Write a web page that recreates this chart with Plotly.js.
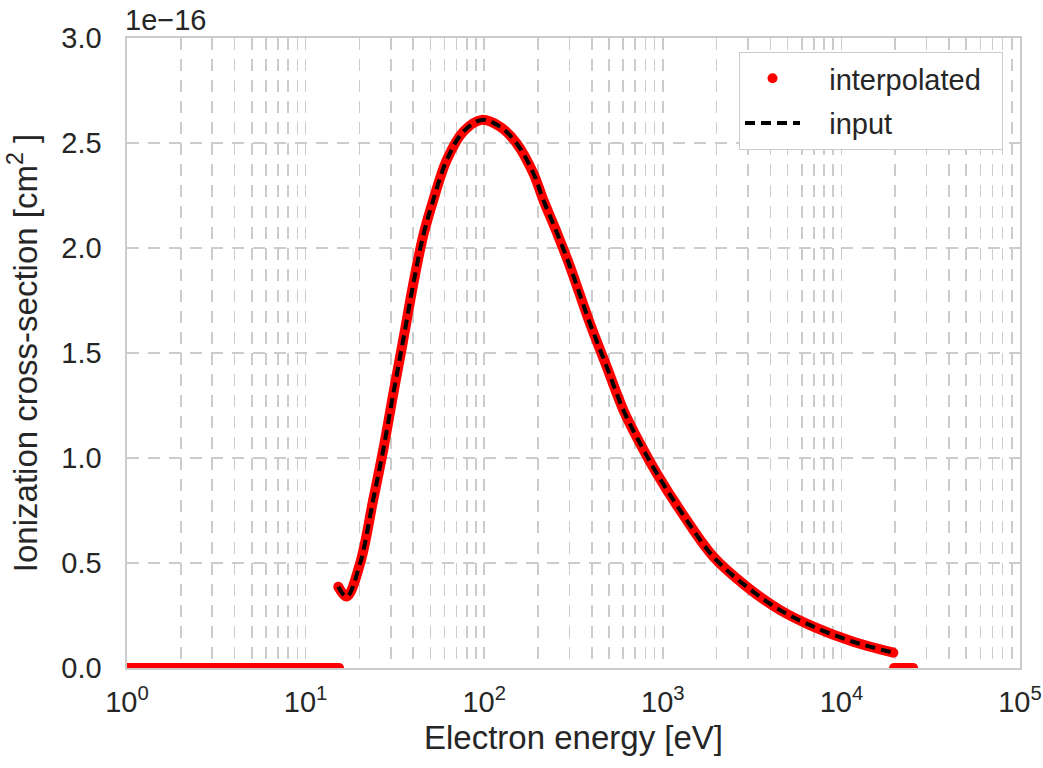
<!DOCTYPE html>
<html>
<head>
<meta charset="utf-8">
<script src="https://cdn.plot.ly/plotly-3.0.1.min.js"></script>
<style>html,body{margin:0;padding:0;background:#fff;}#chart{width:1043px;height:768px;}</style>
</head>
<body>
<div id="chart"></div>
<script>
// Electron energy [eV] of the tabulated (input) cross-section curve
const energyInput = [15.24, 17.0, 20.2, 23.9, 27.2, 31.0, 35.2, 40.1, 45.6, 51.9, 61.7, 76.4, 96.8,
  122.5, 152, 188.4, 214, 254.7, 302.6, 391, 485, 601, 745, 925, 1248, 1918, 2951, 4530, 6965, 11660, 19530];
// Ionization cross-section in units of 1e-16 cm^2
const sigmaInput = [0.387, 0.340, 0.499, 0.800, 1.038, 1.308, 1.562, 1.83, 2.06, 2.229, 2.419, 2.554, 2.610,
  2.578, 2.498, 2.356, 2.230, 2.075, 1.911, 1.641, 1.435, 1.229, 1.070, 0.927, 0.752, 0.530, 0.387, 0.276, 0.197, 0.125, 0.073];

// Interpolated series: zero below threshold, the curve, zero beyond the table end
const energyBelow = [1, 15.4];
const sigmaBelow = [0, 0];
const energyAbove = [19700, 25200];
const sigmaAbove = [0, 0];

const xTickVals = [1, 10, 100, 1000, 10000, 100000];
const xTickText = ['10<sup>0</sup>', '10<sup>1</sup>', '10<sup>2</sup>', '10<sup>3</sup>', '10<sup>4</sup>', '10<sup>5</sup>'];
const yScaleLabel = '1e\u221216';
const seriesNames = ['interpolated', 'input'];

const minorVals = [];
for (let d = 0; d < 5; d++) for (let m = 2; m <= 9; m++) minorVals.push(m * Math.pow(10, d));

const xInterp = energyBelow.concat([null], energyInput, [null], energyAbove);
const yInterp = sigmaBelow.concat([null], sigmaInput, [null], sigmaAbove);

const gridCol = '#cccccc';
const gridDash = '12px,9px';
const txt = '#262626';
const fam = '"Liberation Sans", Arial, sans-serif';
const pad = '\u00a0\u00a0\u00a0';
const last = energyInput.length - 1;

const traces = [
  {x: xInterp, y: yInterp, mode: 'lines', connectgaps: false,
   line: {color: '#ff0000', width: 10, shape: 'spline', smoothing: 1},
   showlegend: false, legendgroup: 'a', hoverinfo: 'skip'},
  {x: [energyBelow[0], energyBelow[1], null, energyInput[0], null, energyAbove[0], energyAbove[1], null, energyInput[last]],
   y: [sigmaBelow[0], sigmaBelow[1], null, sigmaInput[0], null, sigmaAbove[0], sigmaAbove[1], null, sigmaInput[last]],
   mode: 'markers', marker: {color: '#ff0000', size: 10}, showlegend: false, hoverinfo: 'skip'},
  {x: [null], y: [null], mode: 'markers', name: pad + seriesNames[0] + '\u00a0\u00a0',
   marker: {color: '#ff0000', size: 10}, legendgroup: 'a'},
  {x: energyInput, y: sigmaInput, mode: 'lines', name: pad + seriesNames[1],
   line: {color: '#000000', width: 4, dash: '10px,6px', shape: 'spline', smoothing: 1}, legendgroup: 'b'}
];

const layout = {
  width: 1043, height: 768,
  margin: {l: 127, r: 23, t: 38, b: 100},
  paper_bgcolor: '#ffffff', plot_bgcolor: '#ffffff',
  font: {family: fam, color: txt, size: 29},
  showlegend: true,
  legend: {x: 0.981, y: 0.978, xanchor: 'right', yanchor: 'top',
    bgcolor: '#ffffff', bordercolor: gridCol, borderwidth: 1,
    font: {family: fam, size: 29, color: txt}, itemwidth: 55,
    traceorder: 'grouped', tracegroupgap: 4},
  xaxis: {type: 'log', range: [0, 5], tickvals: xTickVals, ticktext: xTickText,
    tickfont: {size: 29, color: txt}, ticks: '', ticklabelstandoff: 8,
    showgrid: true, gridcolor: gridCol, griddash: gridDash, gridwidth: 1.6,
    minor: {tickvals: minorVals, showgrid: true, gridcolor: gridCol, griddash: gridDash, gridwidth: 1.6, ticks: ''},
    zeroline: false, showline: true, linecolor: gridCol, linewidth: 1.6, mirror: true,
    title: {text: 'Electron energy [eV]', font: {size: 33, color: txt}, standoff: 8}},
  yaxis: {range: [0, 3], dtick: 0.5, tick0: 0, tickformat: '.1f',
    tickfont: {size: 29, color: txt}, ticks: '', ticklabelstandoff: 18,
    showgrid: true, gridcolor: gridCol, griddash: gridDash, gridwidth: 1.6,
    zeroline: false, showline: true, linecolor: gridCol, linewidth: 1.6, mirror: true,
    title: {text: 'Ionization cross-section [cm<sup>2</sup> ]', font: {size: 33, color: txt}, standoff: 14}},
  annotations: [{text: yScaleLabel, xref: 'paper', yref: 'paper', x: 0, y: 1,
    xanchor: 'left', yanchor: 'bottom', showarrow: false, yshift: 0, xshift: -4,
    font: {size: 29, color: txt, family: fam}}]
};

Plotly.newPlot('chart', traces, layout, {displayModeBar: false, staticPlot: true});
</script>
</body>
</html>
